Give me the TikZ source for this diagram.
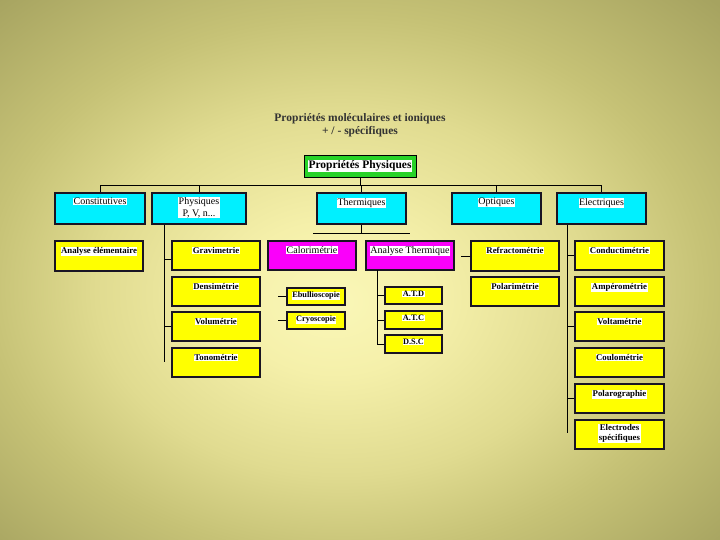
\documentclass[tikz,border=0pt]{standalone}
\usepackage{fontspec}
\setmainfont{Liberation Serif}
\usetikzlibrary{shadows}
\definecolor{cyanc}{RGB}{0,240,255}
\definecolor{yel}{RGB}{255,255,0}
\definecolor{mag}{RGB}{250,0,250}
\definecolor{grn}{RGB}{40,210,40}
\definecolor{bd}{RGB}{25,20,35}
\definecolor{bgA}{RGB}{250,247,184}
\definecolor{bgB}{RGB}{245,240,170}
\definecolor{bgC}{RGB}{224,219,144}
\definecolor{bgD}{RGB}{198,194,118}
\definecolor{bgE}{RGB}{166,163,96}
\pgfdeclareradialshading{bgshade}{\pgfpoint{-2bp}{-3bp}}{color(0bp)=(bgA); color(7bp)=(bgB); color(17bp)=(bgC); color(25bp)=(bgD); color(36bp)=(bgE); color(50bp)=(bgE)}
\newcommand\fcy{\fontsize{10}{11.5}\selectfont}
\newcommand\fye{\fontsize{8.8}{10.5}\selectfont\bfseries}
\newcommand\fsm{\fontsize{8.3}{10}\selectfont\bfseries}
\newcommand\mkbox[9]{%
  \node[#2, minimum width={#5-#3}, minimum height={#6-#4}] (#1) at ({(#3+#5)/2},{(#4+#6)/2}) {};
  \node[txt, font=#8] (#1t) at ([yshift=-#7]#1.north) {#9};}
\begin{document}
\begin{tikzpicture}[x=1pt,y=-1pt,
  box/.style={draw=bd, line width=1.2pt, inner sep=0pt,
    drop shadow={shadow xshift=1.3pt, shadow yshift=-1.3pt, fill=black, opacity=0.55}},
  cy/.style={box, fill=cyanc},
  ye/.style={box, fill=yel},
  ma/.style={box, fill=mag},
  txt/.style={fill=white, inner sep=0.5pt, anchor=north, align=center},
  conn/.style={draw=black, line width=0.8pt}]
\useasboundingbox (0,0) rectangle (720,540);
\fill[shading=bgshade] (0,0) rectangle (720,540);

% title
\node[font=\fontsize{11.5}{13.5}\selectfont\bfseries, align=center, text=black!80] (title) at (360,125)
  {Propriétés moléculaires et ioniques\\+ / - spécifiques};

% top box
\node[draw=black, line width=0.7pt, fill=grn, minimum width=112pt, minimum height=22pt, inner sep=0pt] (pp) at (360,166) {};
\node[fill=white, inner sep=1pt, font=\fontsize{11.5}{13}\selectfont\bfseries] (ppt) at (pp.center) {Propriétés Physiques};

% level 1
\mkbox{cons}{cy}{55}{193}{145}{224}{5pt}{\fcy}{Constitutives}
\mkbox{phys}{cy}{152}{193}{246}{224}{4.5pt}{\fcy}{Physiques\\P, V, n...}
\mkbox{therm}{cy}{317}{193}{406}{224}{5pt}{\fcy}{Thermiques}
\mkbox{opt}{cy}{452}{193}{541}{224}{5pt}{\fcy}{Optiques}
\mkbox{elec}{cy}{557}{193}{646}{224}{5pt}{\fcy}{Electriques}

% bus
\coordinate (busL) at (100,185);
\coordinate (busR) at (601,185);
\draw[conn] (busL) -- (busR);
\draw[conn] (pp.south) -- (pp.south |- busL);
\foreach \n in {cons,phys,therm,opt,elec} \draw[conn] (\n.north) -- (\n.north |- busL);

% Constitutives
\mkbox{anel}{ye}{55}{241}{143}{271}{6pt}{\fye}{Analyse élémentaire}

% Physiques column
\mkbox{grav}{ye}{172}{241}{260}{270}{6pt}{\fye}{Gravimetrie}
\mkbox{dens}{ye}{172}{277}{260}{306}{6pt}{\fye}{Densimétrie}
\mkbox{volu}{ye}{172}{312}{260}{341}{6pt}{\fye}{Volumétrie}
\mkbox{tono}{ye}{172}{348}{260}{377}{6pt}{\fye}{Tonométrie}
\coordinate (pvb) at (164,362);
\draw[conn] (phys.south -| pvb) -- (pvb);
\draw[conn] ([yshift=-4pt]grav.west) -- ([yshift=-4pt]grav.west -| pvb);
\draw[conn] (volu.west) -- (volu.west -| pvb);

% Thermiques
\coordinate (thL) at (313,233);
\coordinate (thR) at (410,233);
\draw[conn] (therm.south) -- (therm.south |- thL);
\draw[conn] (thL) -- (thR);
\mkbox{calo}{ma}{268}{241}{356}{270}{5pt}{\fcy}{Calorimétrie}
\mkbox{anth}{ma}{366}{241}{454}{270}{5pt}{\fcy}{Analyse Thermique}

\mkbox{ebul}{ye}{287}{288}{345}{305}{4pt}{\fsm}{Ebullioscopie}
\mkbox{cryo}{ye}{287}{312}{345}{329}{4pt}{\fsm}{Cryoscopie}
\draw[conn] (ebul.west) -- ++(-8,0);
\draw[conn] (cryo.west) -- ++(-8,0);

\mkbox{atd}{ye}{385}{287}{442}{304}{4pt}{\fsm}{A.T.D}
\mkbox{atc}{ye}{385}{311}{442}{329}{4pt}{\fsm}{A.T.C}
\mkbox{dsc}{ye}{385}{335}{442}{353}{4pt}{\fsm}{D.S.C}
\coordinate (avt) at (377,270);
\coordinate (avb) at (377,344);
\draw[conn] (avt) -- (avb);
\foreach \n in {atd,atc,dsc} \draw[conn] (\n.west) -- (\n.west -| avt);

% Optiques
\mkbox{refr}{ye}{471}{241}{559}{271}{6pt}{\fye}{Refractométrie}
\mkbox{pola}{ye}{471}{277}{559}{306}{6pt}{\fye}{Polarimétrie}
\draw[conn] (refr.west) -- ++(-9,0);

% Electriques
\mkbox{cond}{ye}{575}{241}{664}{270}{6pt}{\fye}{Conductimétrie}
\mkbox{ampe}{ye}{575}{277}{664}{306}{6pt}{\fye}{Ampérométrie}
\mkbox{volt}{ye}{575}{312}{664}{341}{6pt}{\fye}{Voltamétrie}
\mkbox{coul}{ye}{575}{348}{664}{377}{6pt}{\fye}{Coulométrie}
\mkbox{polg}{ye}{575}{384}{664}{413}{6pt}{\fye}{Polarographie}
\mkbox{elsp}{ye}{575}{420}{664}{449}{4pt}{\fye}{Electrodes\\spécifiques}
\coordinate (evb) at (567,433);
\draw[conn] (elec.south -| evb) -- (evb);
\foreach \n in {cond,volt,polg} \draw[conn] (\n.west) -- (\n.west -| evb);
\end{tikzpicture}
\end{document}
